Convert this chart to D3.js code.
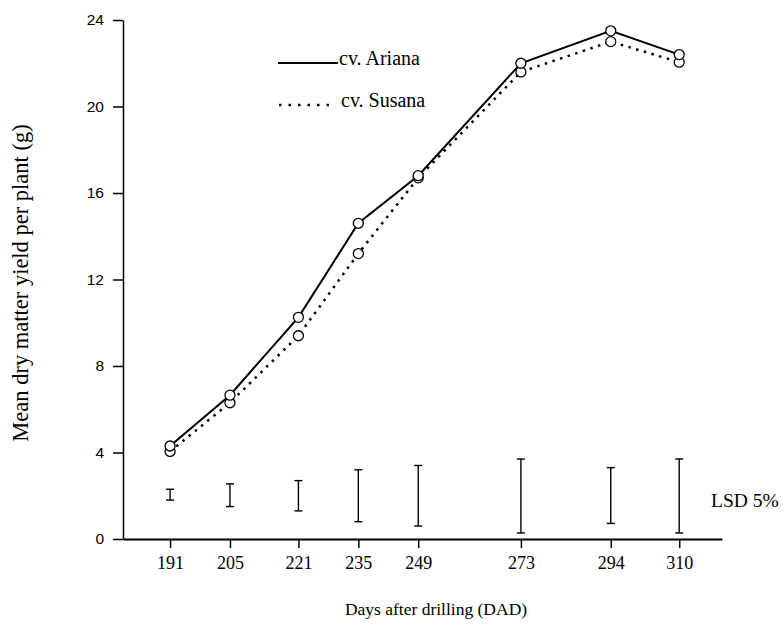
<!DOCTYPE html>
<html>
<head>
<meta charset="utf-8">
<script src="https://cdn.jsdelivr.net/npm/d3@7"></script>
<style>
  body { margin: 0; background: #fff; }
  text { font-family: "Liberation Serif", "DejaVu Serif", serif; fill: #000; }
</style>
</head>
<body>
<div id="chart"></div>
<script>
// days after drilling
var days = [191, 205, 221, 235, 249, 273, 294, 310];
var ariana = [4.3, 6.65, 10.25, 14.6, 16.8, 22.0, 23.5, 22.4];
var susana = [4.05, 6.3, 9.4, 13.2, 16.7, 21.6, 23.0, 22.05];
// LSD 5% bars (low, high)
var lsdLow = [1.8, 1.5, 1.3, 0.8, 0.6, 0.28, 0.72, 0.28];
var lsdHigh = [2.3, 2.55, 2.7, 3.2, 3.4, 3.7, 3.3, 3.7];
var yTicks = [0, 4, 8, 12, 16, 20, 24];

var width = 783, height = 626;

var svg = d3.select("#chart")
    .append("svg")
    .attr("width", width)
    .attr("height", height);

var x = d3.scaleLinear().domain([180, 320]).range([123, 722]);
var y = d3.scaleLinear().domain([0, 24]).range([539, 20]);

var xAxis = svg.append("g")
    .attr("transform", "translate(0," + y(0) + ")")
    .call(d3.axisBottom(x).tickValues(days).tickSize(9).tickSizeOuter(0).tickPadding(8));
xAxis.select(".domain").attr("stroke-width", 2);
xAxis.selectAll(".tick line").attr("stroke-width", 1.5);
xAxis.selectAll("text").attr("font-size", 18).style("font-family", "Liberation Serif");

var yAxis = svg.append("g")
    .attr("transform", "translate(" + x(180) + ",0)")
    .call(d3.axisLeft(y).tickValues(yTicks).tickSize(10).tickSizeOuter(0).tickPadding(9));
yAxis.select(".domain").attr("stroke-width", 1.5);
yAxis.selectAll(".tick line").attr("stroke-width", 1.5);
yAxis.selectAll("text").attr("font-size", 15.5).style("font-family", "Liberation Sans");

// axis titles
svg.append("text")
    .attr("x", 436)
    .attr("y", 615)
    .attr("text-anchor", "middle")
    .attr("font-size", 17.5)
    .text("Days after drilling (DAD)");

svg.append("text")
    .attr("transform", "translate(28,283) rotate(-90)")
    .attr("text-anchor", "middle")
    .attr("font-size", 22.5)
    .text("Mean dry matter yield per plant (g)");

// LSD bars
var capW = 4;
var bars = svg.append("g").attr("stroke", "#000").attr("stroke-width", 1.4);
days.forEach(function (d, i) {
    bars.append("line")
        .attr("x1", x(d)).attr("x2", x(d))
        .attr("y1", y(lsdLow[i])).attr("y2", y(lsdHigh[i]));
    bars.append("line")
        .attr("x1", x(d) - capW).attr("x2", x(d) + capW)
        .attr("y1", y(lsdLow[i])).attr("y2", y(lsdLow[i]));
    bars.append("line")
        .attr("x1", x(d) - capW).attr("x2", x(d) + capW)
        .attr("y1", y(lsdHigh[i])).attr("y2", y(lsdHigh[i]));
});

svg.append("text")
    .attr("x", 711)
    .attr("y", 507)
    .attr("font-size", 19.5)
    .text("LSD 5%");

var line = d3.line()
    .x(function (d) { return x(d[0]); })
    .y(function (d) { return y(d[1]); });

var sData = d3.zip(days, susana);
var aData = d3.zip(days, ariana);

svg.append("path")
    .datum(sData)
    .attr("d", line)
    .attr("fill", "none")
    .attr("stroke", "#000")
    .attr("stroke-width", 2.5)
    .attr("stroke-dasharray", "2.5,5.5");

svg.append("path")
    .datum(aData)
    .attr("d", line)
    .attr("fill", "none")
    .attr("stroke", "#000")
    .attr("stroke-width", 2);

svg.selectAll(".pt")
    .data(sData.concat(aData))
    .enter()
    .append("circle")
    .attr("class", "pt")
    .attr("cx", function (d) { return x(d[0]); })
    .attr("cy", function (d) { return y(d[1]); })
    .attr("r", 5)
    .attr("fill", "#fff")
    .attr("stroke", "#000")
    .attr("stroke-width", 1.3);

// legend
svg.append("line")
    .attr("x1", 278).attr("x2", 338)
    .attr("y1", 63).attr("y2", 63)
    .attr("stroke", "#000").attr("stroke-width", 2);
svg.append("text")
    .attr("x", 339).attr("y", 65)
    .attr("font-size", 20)
    .text("cv. Ariana");

svg.append("line")
    .attr("x1", 279).attr("x2", 335)
    .attr("y1", 105).attr("y2", 105)
    .attr("stroke", "#000").attr("stroke-width", 2.5)
    .attr("stroke-dasharray", "2.5,7");
svg.append("text")
    .attr("x", 341).attr("y", 107)
    .attr("font-size", 20)
    .text("cv. Susana");
</script>
</body>
</html>
